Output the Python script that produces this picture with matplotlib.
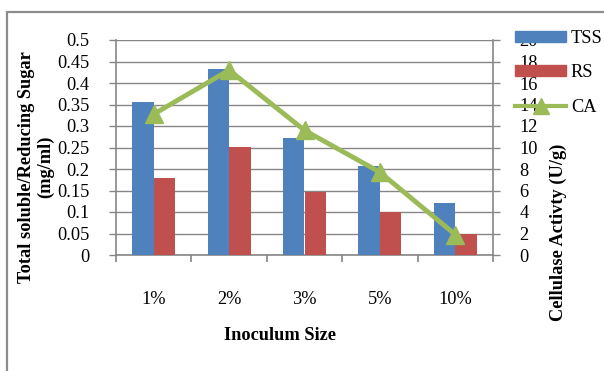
import matplotlib
matplotlib.use("Agg")
import matplotlib.pyplot as plt
from matplotlib.patches import Rectangle
from matplotlib.lines import Line2D
import numpy as np

plt.rcParams['font.family'] = ['Liberation Serif', 'DejaVu Serif']

categories = ["1%", "2%", "3%", "5%", "10%"]
tss = [0.355, 0.432, 0.272, 0.207, 0.122]
rs = [0.178, 0.251, 0.146, 0.100, 0.050]
ca = [13.1, 17.2, 11.6, 7.7, 1.9]
left_ticks = [0, 0.05, 0.1, 0.15, 0.2, 0.25, 0.3, 0.35, 0.4, 0.45, 0.5]
left_labels = ["0", "0.05", "0.1", "0.15", "0.2", "0.25", "0.3", "0.35", "0.4", "0.45", "0.5"]
right_ticks = [0, 2, 4, 6, 8, 10, 12, 14, 16, 18, 20]

W, H = 604, 371
fig = plt.figure(figsize=(W / 100, H / 100), dpi=100)
fs = 13.2
grid_c = "#868686"
blue = "#4F81BD"
red = "#C0504D"
green = "#9BBB59"

# outer chart border (extends past the right and bottom edges)
fig.patches.append(Rectangle((7 / W, -0.05), 1.1, 1 - 12 / H + 0.05,
                             transform=fig.transFigure, fill=False,
                             edgecolor="#8c8c8c", linewidth=1.6))

ax = fig.add_axes([116 / W, 1 - 255 / H, (493 - 116) / W, (255 - 40) / H])
ax2 = ax.twinx()

x = np.arange(len(categories))
bw = 0.285
ax.bar(x - bw / 2, tss, bw, color=blue, zorder=3, label="TSS")
ax.bar(x + bw / 2, rs, bw, color=red, zorder=3, label="RS")
ax.set_xlim(-0.5, len(categories) - 0.5)
ax.set_ylim(0, 0.5)
ax.set_yticks(left_ticks)
ax.set_yticklabels(left_labels)
ax.yaxis.grid(True, color=grid_c, linewidth=1.0, zorder=0)
ax.set_axisbelow(True)

ax.set_xticks(np.arange(len(categories) + 1) - 0.5)
ax.set_xticklabels([])
ax.set_xticks(x, minor=True)
ax.set_xticklabels(categories, minor=True)
ax.tick_params(axis="x", which="minor", length=0, pad=26, labelsize=fs)
ax.tick_params(axis="x", which="major", length=5, width=1.2, color=grid_c, direction="out")
ax.tick_params(axis="y", length=5, width=1.0, color=grid_c, pad=14, labelsize=fs)

for s in ["top"]:
    ax.spines[s].set_visible(False)
    ax2.spines[s].set_visible(False)
ax.spines["left"].set_color(grid_c)
ax.spines["bottom"].set_color(grid_c)
ax.spines["left"].set_linewidth(1.2)
ax.spines["bottom"].set_linewidth(1.2)
ax.spines["right"].set_visible(False)
ax2.spines["left"].set_visible(False)
ax2.spines["bottom"].set_visible(False)
ax2.spines["right"].set_color(grid_c)
ax2.spines["right"].set_linewidth(1.2)

ax2.plot(x, ca, color=green, linewidth=3.5, marker="^", markersize=13,
         markeredgecolor=green, markerfacecolor=green, zorder=5, label="CA")
ax2.set_ylim(0, 20)
ax2.set_yticks(right_ticks)
ax2.tick_params(axis="y", length=5, width=1.0, color=grid_c, pad=14, labelsize=fs)

ax.set_zorder(1)
ax2.set_zorder(2)
ax.patch.set_visible(False)

fig.text(279.5 / W, 1 - 336 / H, "Inoculum Size", ha="center", va="center",
         fontsize=fs, fontweight="bold")
fig.text(36 / W, 1 - 167 / H, "Total soluble/Reducing Sugar\n(mg/ml)", ha="center",
         va="center", rotation=90, fontsize=fs, fontweight="bold", linespacing=1.2)
fig.text(558 / W, 1 - 232 / H, "Cellulase Activty (U/g)", ha="center", va="center",
         rotation=90, fontsize=fs, fontweight="bold")

handles = [Rectangle((0, 0), 1, 1, color=blue),
           Rectangle((0, 0), 1, 1, color=red),
           Line2D([], [], color=green, linewidth=3.0, marker="^", markersize=11)]
leg = fig.legend(handles, ["TSS", "RS", "CA"], loc="upper left",
                 bbox_to_anchor=(515 / W, 1 - 30 / H), frameon=False,
                 fontsize=fs, handlelength=2.8, handleheight=0.55,
                 handletextpad=0.25, labelspacing=0.95, borderpad=0,
                 borderaxespad=0)
leg.set_zorder(10)

fig.savefig("out.png", dpi=100)
